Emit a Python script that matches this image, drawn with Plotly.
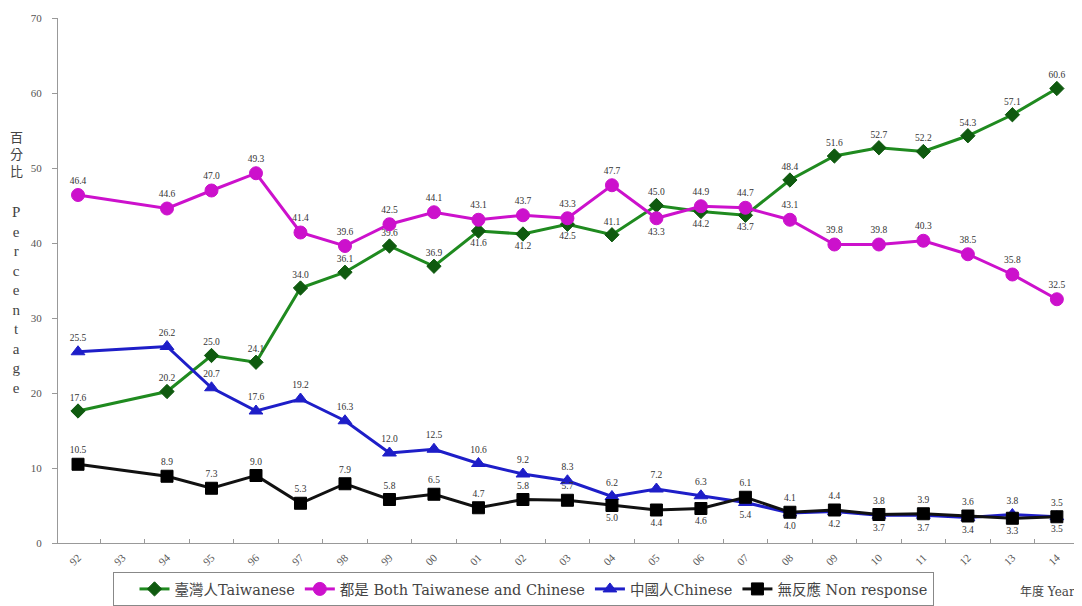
import plotly.graph_objects as go

tick_labels = ["92","93","94","95","96","97","98","99","00","01","02","03","04",
               "05","06","07","08","09","10","11","12","13","14"]
years = ["92","94","95","96","97","98","99","00","01","02","03","04",
         "05","06","07","08","09","10","11","12","13","14"]

taiwanese = [17.6,20.2,25.0,24.1,34.0,36.1,39.6,36.9,41.6,41.2,42.5,41.1,
             45.0,44.2,43.7,48.4,51.6,52.7,52.2,54.3,57.1,60.6]
both = [46.4,44.6,47.0,49.3,41.4,39.6,42.5,44.1,43.1,43.7,43.3,47.7,
        43.3,44.9,44.7,43.1,39.8,39.8,40.3,38.5,35.8,32.5]
chinese = [25.5,26.2,20.7,17.6,19.2,16.3,12.0,12.5,10.6,9.2,8.3,6.2,
           7.2,6.3,5.4,4.0,4.2,3.7,3.7,3.4,3.8,3.5]
nonresp = [10.5,8.9,7.3,9.0,5.3,7.9,5.8,6.5,4.7,5.8,5.7,5.0,
           4.4,4.6,6.1,4.1,4.4,3.8,3.9,3.6,3.3,3.5]

names = ["臺灣人Taiwanese", "都是 Both Taiwanese and Chinese", "中國人Chinese", "無反應 Non response"]

T, B = "top center", "bottom center"
pos_tw = [T,T,T,T,T,T,T,T,B,B,B,T,T,B,B,T,T,T,T,T,T,T]
pos_both = [T]*12 + [B] + [T]*9
pos_cn = [T]*14 + [B,B,B,B,B,B,T,B]
pos_nr = [T]*11 + [B,B,B] + [T,T,T,T,T,T,B,T]

SERIF = "Liberation Serif, Noto Sans CJK TC, serif"
WIDE = "DejaVu Serif, Noto Sans CJK TC, serif"
lab_font = dict(family=SERIF, size=9.5, color="#333333")

fig = go.Figure()

def add(vals, name, lc, mc, sym, msize, pos):
    fig.add_trace(go.Scatter(
        x=years, y=vals, name=name, mode="lines+markers+text",
        line=dict(color=lc, width=3),
        marker=dict(symbol=sym, size=msize, color=mc, line=dict(color=mc, width=1)),
        text=[f"{v:.1f}" for v in vals], textposition=pos,
        textfont=lab_font, cliponaxis=False,
    ))

add(taiwanese, names[0], "#1f8a1f", "#0f5a0f", "diamond", 11, pos_tw)
add(both, names[1], "#cc11cc", "#cc11cc", "circle", 13, pos_both)
add(chinese, names[2], "#1e1ec8", "#1e1ec8", "triangle-up", 12, pos_cn)
add(nonresp, names[3], "#111111", "#000000", "square", 12, pos_nr)

H = 525.0
W = 1022.0
def py(screen_y):
    return (543.0 - screen_y) / H
def px(screen_x):
    return (screen_x - 58.0) / W

fig.update_layout(
    width=1082, height=606,
    margin=dict(l=50, r=10, t=10, b=71, autoexpand=False),
    paper_bgcolor="white", plot_bgcolor="white",
    font=dict(family=SERIF, color="#333333"),
    showlegend=True,
    legend=dict(orientation="h", x=px(113), y=py(572), xanchor="left", yanchor="top",
                bordercolor="#888888", borderwidth=1, bgcolor="rgba(255,255,255,0)",
                font=dict(family=WIDE, size=14.5, color="#444444"),
                title=dict(text="&nbsp;&nbsp;&nbsp;", side="left",
                           font=dict(family=WIDE, size=11)),
                itemwidth=30),
    xaxis=dict(type="category", categoryorder="array", categoryarray=tick_labels,
               tickvals=tick_labels, ticktext=tick_labels, automargin=False,
               range=[-0.45, 22.52], showgrid=False, zeroline=False,
               showline=True, linecolor="#999999", linewidth=1,
               ticks="inside", ticklen=4, tickcolor="#999999", tickson="boundaries",
               ticklabelstandoff=3,
               tickangle=-45, tickfont=dict(family=SERIF, size=11, color="#555555")),
    yaxis=dict(range=[0, 70], tickvals=[0,10,20,30,40,50,60,70], showgrid=False,
               zeroline=False, showline=True, linecolor="#999999", linewidth=1,
               automargin=False, ticklabelstandoff=8,
               ticks="outside", ticklen=5, tickcolor="#999999",
               tickfont=dict(family=SERIF, size=11, color="#555555")),
    annotations=[
        dict(text="年度 Year", xref="paper", yref="paper", x=px(1047), y=py(591),
             xanchor="center", yanchor="middle", showarrow=False,
             font=dict(family=WIDE, size=12, color="#444444")),
        dict(text="百<br>分<br>比", xref="paper", yref="paper", x=px(16), y=py(128),
             xanchor="center", yanchor="top", showarrow=False,
             font=dict(family=SERIF, size=13, color="#444444")),
        dict(text="<br>".join(list("Percentage")), xref="paper", yref="paper",
             x=px(16), y=py(202), xanchor="center", yanchor="top", showarrow=False,
             font=dict(family=SERIF, size=15, color="#444444")),
    ],
)

fig.write_html("out.html")
